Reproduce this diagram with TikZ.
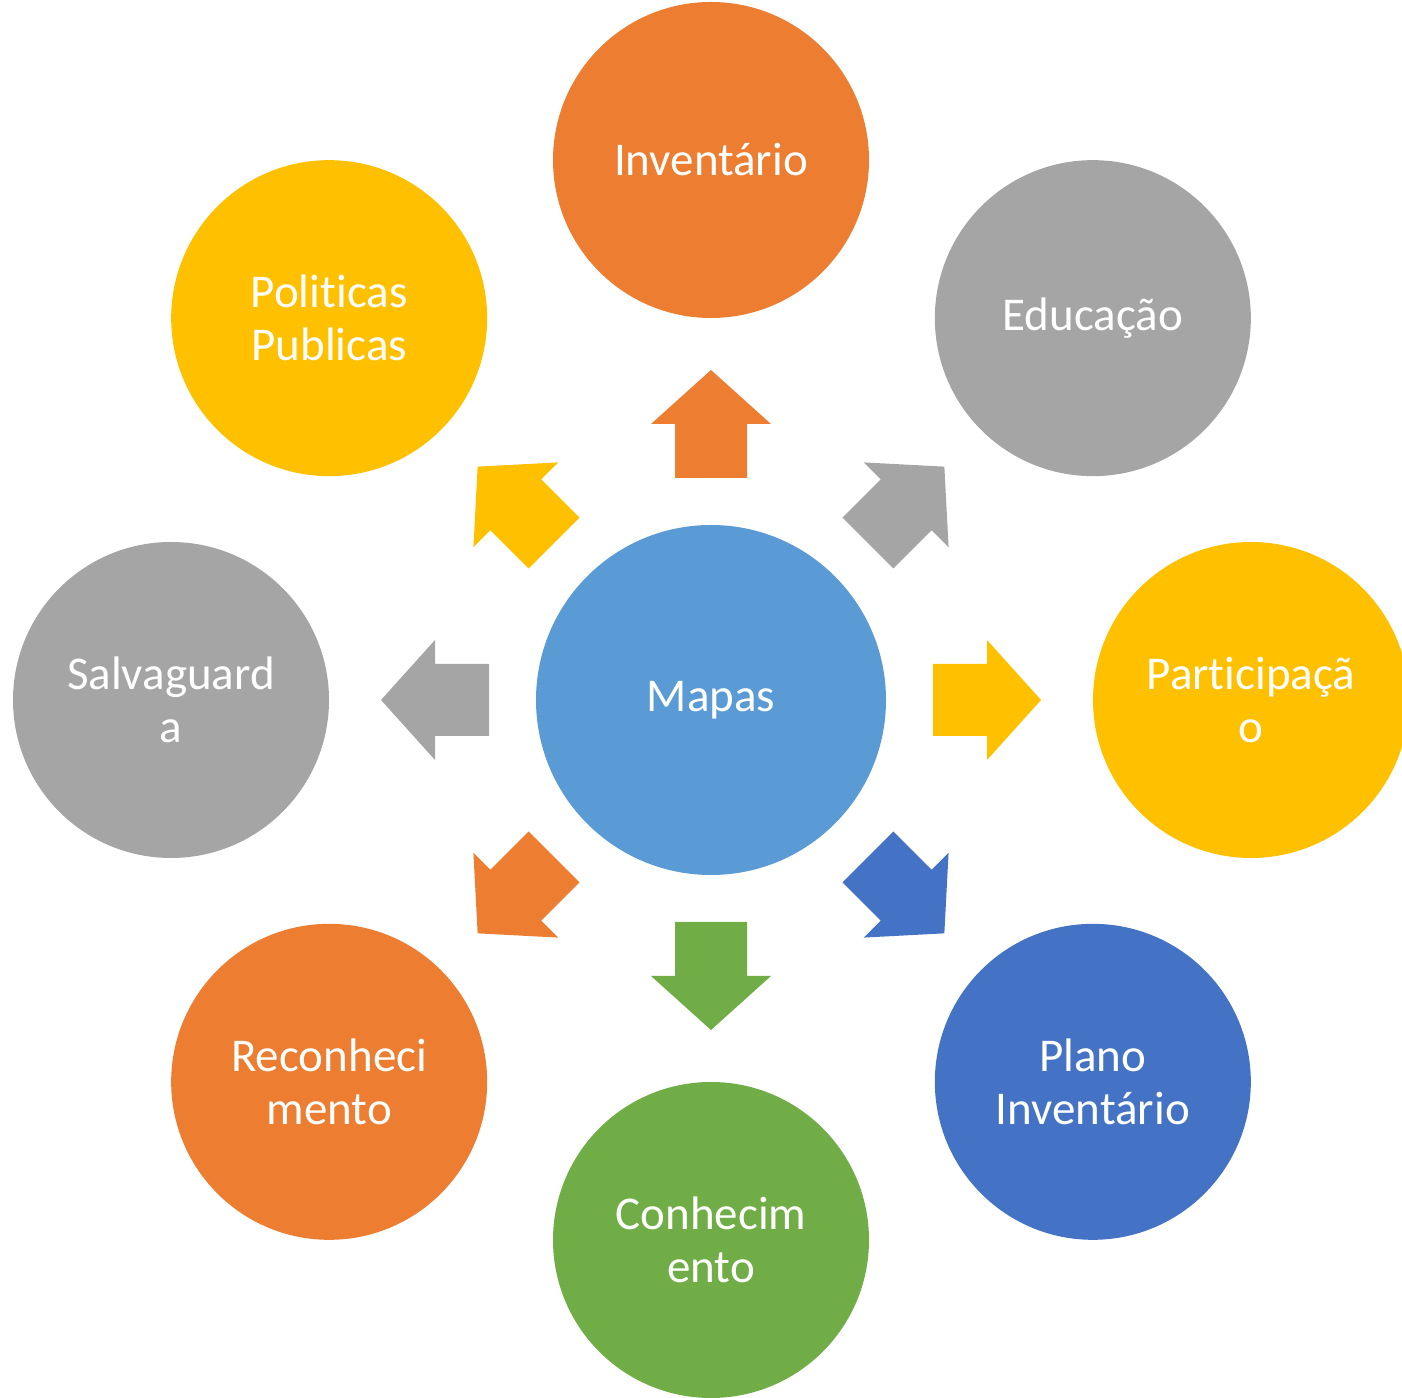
\documentclass[tikz,border=0pt]{standalone}
\usepackage{fontspec}
\setmainfont{Carlito}[Ligatures=NoCommon]
\usetikzlibrary{calc}
\definecolor{cOrange}{HTML}{ED7D31}
\definecolor{cGray}{HTML}{A5A5A5}
\definecolor{cGold}{HTML}{FFC000}
\definecolor{cBlue}{HTML}{5B9BD5}
\definecolor{cDarkBlue}{HTML}{4472C4}
\definecolor{cGreen}{HTML}{70AD47}
\tikzset{
  bubble/.style={circle, minimum size=316pt, inner sep=0pt, text=white, align=center,
    font=\fontsize{47}{53}\selectfont},
  hub/.style={bubble, minimum size=350pt},
}
\begin{document}
\begin{tikzpicture}[x=1pt,y=1pt]
\useasboundingbox (0,0) rectangle (1402,1397);
\clip (0,0) rectangle (1402,1397);
\coordinate (c) at (711,697);
\node[hub, fill=cBlue] (mapas) at (c) {Mapas};
\node[bubble, fill=cOrange]   (inv)  at ($(c)+(90:540)$)  {Inventário};
\node[bubble, fill=cGray]     (edu)  at ($(c)+(45:540)$)  {Educação};
\node[bubble, fill=cGold]     (part) at ($(c)+(0:540)$)   {Participaçã\\o};
\node[bubble, fill=cDarkBlue] (plano) at ($(c)+(-45:540)$) {Plano\\Inventário};
\node[bubble, fill=cGreen]    (conh) at ($(c)+(-90:540)$) {Conhecim\\ento};
\node[bubble, fill=cOrange]   (reco) at ($(c)+(-135:540)$) {Reconheci\\mento};
\node[bubble, fill=cGray]     (salv) at ($(c)+(180:540)$) {Salvaguard\\a};
\node[bubble, fill=cGold]     (pol)  at ($(c)+(135:540)$) {Politicas\\Publicas};
\foreach \ang/\col in {90/cOrange,45/cGray,0/cGold,-45/cDarkBlue,-90/cGreen,-135/cOrange,180/cGray,135/cGold}{
  \begin{scope}[shift={(c)}, rotate=\ang]
    \fill[\col] (222,-36) -- (276,-36) -- (276,-60) -- (330,0) -- (276,60) -- (276,36) -- (222,36) -- cycle;
  \end{scope}
}
\end{tikzpicture}
\end{document}
